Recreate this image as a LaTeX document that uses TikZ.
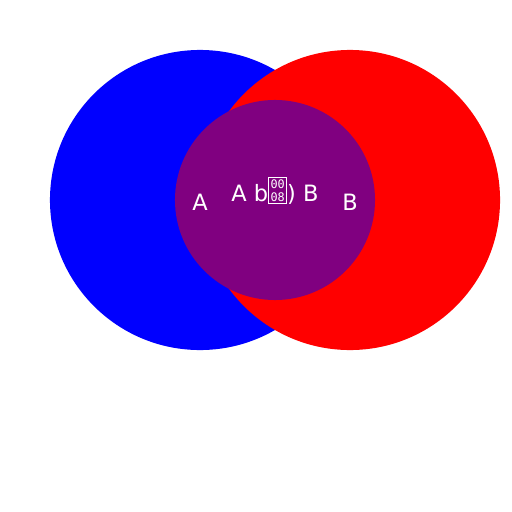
\documentclass[tikz,border=0pt]{standalone}
\usepackage{fontspec}
\setmainfont{DejaVu Sans}
\setmonofont{DejaVu Sans Mono}
\definecolor{viola}{RGB}{128,0,128}
\newcommand{\tofubox}{{\setlength{\fboxsep}{1.1pt}\setlength{\fboxrule}{0.6pt}%
  \raisebox{0.3pt}{\fbox{\fontsize{8.4}{8.6}\selectfont\ttfamily\shortstack{00\\08}}}}}
\tikzset{
  insieme/.style = {circle, inner sep=0, draw=none, minimum size=7.5cm},
  inter/.style   = {circle, inner sep=0, draw=none, fill=viola, minimum size=5cm},
  et/.style      = {text=white, inner sep=0, font=\fontsize{16}{19}\selectfont}
}
\begin{document}
\begin{tikzpicture}[x=0.025cm, y=-0.025cm]
  \useasboundingbox[fill=white] (0,0) rectangle (512,512);
  \node[insieme, fill=blue] (A) at (200,200) {};
  \node[insieme, fill=red]  (B) at (350,200) {};
  \node[inter] (AB) at (275,200) {};
  \node[et] (la)  at (200,202) {A};
  \node[et] (lb)  at (350,202) {B};
  \node[et] (lab) at (275,191) {A b\tofubox) B};
\end{tikzpicture}
\end{document}
